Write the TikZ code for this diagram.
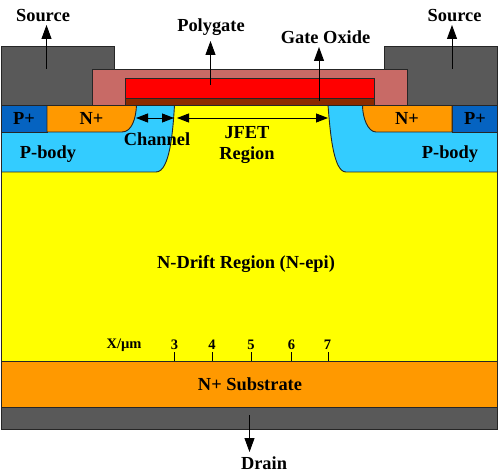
\documentclass[tikz,border=0pt]{standalone}
\usepackage{fontspec}
\setmainfont{Liberation Serif}
\usetikzlibrary{arrows.meta}
\definecolor{metal}{HTML}{595959}
\definecolor{oxide}{HTML}{C86A66}
\definecolor{poly}{HTML}{FF0000}
\definecolor{goxide}{HTML}{8B2A00}
\definecolor{pplus}{HTML}{0563C1}
\definecolor{nplus}{HTML}{FF9900}
\definecolor{pbody}{HTML}{33CCFF}
\definecolor{drift}{HTML}{FFFF00}
\tikzset{
  region/.style={draw=black!85!white,line width=0.9pt,line join=miter},
  lbl/.style={font=\fontsize{18.4}{21}\selectfont\bfseries,text=black,inner sep=0pt,align=center},
  small/.style={font=\fontsize{14.5}{16}\selectfont\bfseries,text=black,inner sep=0pt},
  tick/.style={draw=black,line width=0.9pt},
  pointer/.style={draw=black,line width=0.9pt,-{Triangle[length=14pt,width=10pt]}},
  span/.style={draw=black,line width=0.9pt,{Triangle[length=12pt,width=9pt]}-{Triangle[length=12pt,width=9pt]}},
}
\begin{document}
\begin{tikzpicture}[x=1pt,y=-1pt]
\useasboundingbox (0,0) rectangle (500,473);
\fill[white] (0,0) rectangle (500,473);
% substrate stack
\filldraw[region,fill=drift] (1.5,105) rectangle (497.5,361);
\filldraw[region,fill=nplus] (1.5,361) rectangle (497.5,407);
\filldraw[region,fill=metal] (1.5,407) rectangle (497.5,429);
% p-body left
\filldraw[region,fill=pbody] (1.5,105) -- (174.5,105) .. controls (173,130) and (170,172) .. (156,172) -- (1.5,172) -- cycle;
% p-body right
\filldraw[region,fill=pbody] (497.5,105) -- (328,105) .. controls (330,130) and (333,172) .. (346,172) -- (497.5,172) -- cycle;
% p+ and n+
\filldraw[region,fill=pplus] (1.5,105) rectangle (47,132);
\filldraw[region,fill=pplus] (452,105) rectangle (497.5,132);
\filldraw[region,fill=nplus] (47,105) -- (136.5,105) .. controls (136,118) and (132,132) .. (122,132) -- (47,132) -- cycle;
\filldraw[region,fill=nplus] (452,132) -- (376,132) .. controls (368,132) and (362.5,118) .. (362.5,105) -- (452,105) -- cycle;
% metal
\filldraw[region,fill=metal] (1.5,46) rectangle (114.5,105);
\filldraw[region,fill=metal] (384.5,46) rectangle (497.5,105);
% oxide and gate
\filldraw[region,fill=oxide] (92,69) rectangle (407.5,105);
\filldraw[region,fill=goxide] (125.5,98) rectangle (374,105);
\filldraw[region,fill=poly] (125.5,78.5) rectangle (374,98);
% labels
\node[lbl] (srcL) at (43,15.5) {Source};
\node[lbl] (srcR) at (454.5,15.5) {Source};
\node[lbl] (pg) at (211,27.5) {Polygate};
\node[lbl] (gox) at (325.5,37.5) {Gate Oxide};
\node[lbl] (pl) at (24,118) {P+};
\node[lbl] (nl) at (91.5,118) {N+};
\node[lbl] (pr) at (475,118) {P+};
\node[lbl] (nr) at (407,118) {N+};
\node[lbl] (pbl) at (48,154.5) {P-body};
\node[lbl] (pbr) at (450,154.5) {P-body};
\node[lbl] (chan) at (157,139.5) {Channel};
\node[lbl] (jfet) at (247,145) {JFET\\Region};
\node[lbl] (ndrift) at (246,264) {N-Drift Region (N-epi)};
\node[lbl] (nsub) at (250,384.5) {N+ Substrate};
\node[lbl] (drain) at (264,463) {Drain};
\node[small] (xum) at (124,345) {X/µm};
\node[small] (t3) at (174.5,345) {3};
\node[small] (t4) at (212,345) {4};
\node[small] (t5) at (251,345) {5};
\node[small] (t6) at (291.5,345) {6};
\node[small] (t7) at (327.5,345) {7};
% ticks
\foreach \n/\x in {3/174.5,4/212.5,5/251,6/291.5,7/328.5}{
  \coordinate (a\n) at (\x,352); \coordinate (b\n) at (\x,361);
  \draw[tick] (a\n) -- (b\n);
}
% pointers
\coordinate (s1) at (46.5,69); \coordinate (s1t) at (46.5,25);
\coordinate (s2) at (452,69); \coordinate (s2t) at (452,25);
\coordinate (g1) at (210.5,85); \coordinate (g1t) at (210.5,41);
\coordinate (o1) at (319,101); \coordinate (o1t) at (319,47);
\coordinate (d1) at (249.5,415); \coordinate (d1t) at (249.5,452);
\draw[pointer] (s1) -- (s1t);
\draw[pointer] (s2) -- (s2t);
\draw[pointer] (g1) -- (g1t);
\draw[pointer] (o1) -- (o1t);
\draw[pointer] (d1) -- (d1t);
\coordinate (c1) at (136,118); \coordinate (c2) at (174,118);
\coordinate (j1) at (177,118); \coordinate (j2) at (328,118);
\draw[span] (c1) -- (c2);
\draw[span] (j1) -- (j2);
\end{tikzpicture}
\end{document}
